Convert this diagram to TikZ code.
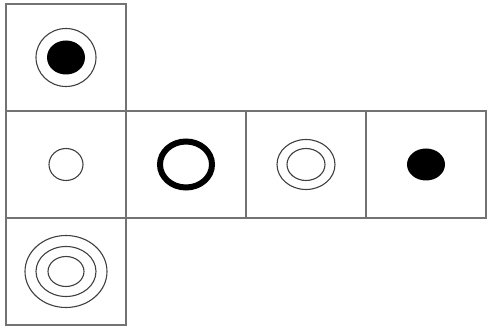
\documentclass[tikz,border=0pt]{standalone}
\usetikzlibrary{positioning}
\begin{document}
\begin{tikzpicture}[
    x=1pt, y=-1pt,
    node distance=0pt,
    cell/.style={rectangle, draw=black!55, line width=1.6pt, outer sep=0pt,
                 inner sep=0pt, minimum width=120pt, minimum height=107pt},
    ring/.style={draw=black!75, line width=1.1pt},
    blob/.style={fill=black}
]
\useasboundingbox (0,0) rectangle (488,334);
\node[cell] (A) at (66,57.5) {};
\node[cell, below=of A] (B) {};
\node[cell, right=of B] (C) {};
\node[cell, right=of C] (D) {};
\node[cell, right=of D] (E) {};
\node[cell, below=of B] (F) {};

\draw[ring] (A.center) circle[x radius=30, y radius=29];
\fill[blob] (A.center) circle[x radius=19, y radius=17];
\draw[ring] (B.center) circle[x radius=17, y radius=16];
\draw[line width=6pt] (C.center) circle[x radius=26, y radius=23];
\draw[ring] (D.center) circle[x radius=29, y radius=25];
\draw[ring] (D.center) circle[x radius=19, y radius=16];
\fill[blob] (E.center) circle[x radius=19, y radius=16];
\draw[ring] (F.center) circle[x radius=41, y radius=36];
\draw[ring] (F.center) circle[x radius=30, y radius=25];
\draw[ring] (F.center) circle[x radius=18, y radius=15];
\end{tikzpicture}
\end{document}
